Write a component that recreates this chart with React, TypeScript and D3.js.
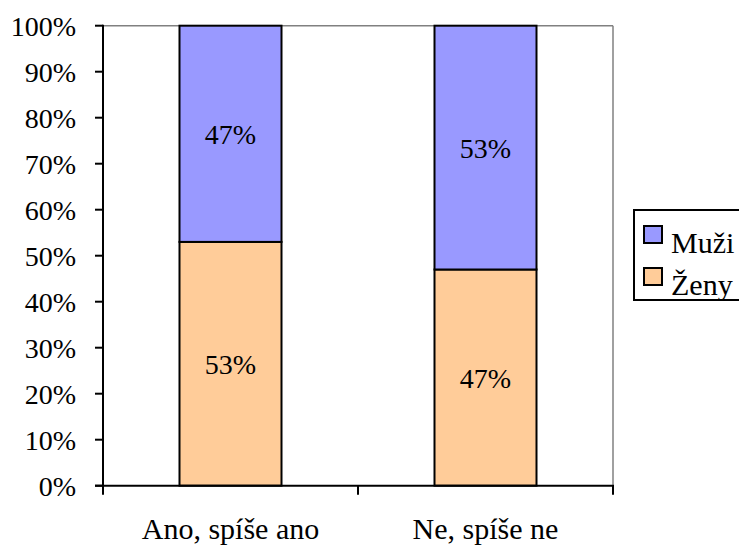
import React from "react";
import * as d3 from "d3";

const categories = ["Ano, spíše ano", "Ne, spíše ne"];
const seriesNames = ["Ženy", "Muži"];
const zeny = [0.53, 0.47];
const muzi = [0.47, 0.53];
const yTicks = [0, 0.1, 0.2, 0.3, 0.4, 0.5, 0.6, 0.7, 0.8, 0.9, 1];
const colors = ["#FFCC99", "#9999FF"];

const W = 739;
const H = 547;
const left = 103;
const right = 613;
const top = 25.7;
const bottom = 485.7;
const FONT = "Liberation Serif";

export default function App() {
  const x = d3.scaleBand<string>().domain(categories).range([left, right]).padding(0);
  const y = d3.scaleLinear().domain([0, 1]).range([bottom, top]);
  const barW = x.bandwidth() * 0.4;

  const rows = categories.map((c, i) => ({ cat: c, "Ženy": zeny[i], "Muži": muzi[i] }));
  const stacked = d3.stack<any>().keys(seriesNames)(rows);
  const pct = d3.format(".0%");
  const ts = { fontFamily: FONT };

  return (
    <svg width={W} height={H} style={{ position: "absolute", left: 0, top: 0, background: "#fff" }}>
      {/* plot frame: top and right edges */}
      <line x1={left} x2={right} y1={top} y2={top} stroke="#808080" strokeWidth={1.5} />
      <line x1={right} x2={right} y1={top} y2={bottom} stroke="#808080" strokeWidth={1.5} />

      {/* stacked bars */}
      {stacked.map((layer, si) =>
        layer.map((d, i) => {
          const x0 = (x(categories[i]) as number) + (x.bandwidth() - barW) / 2;
          const y0 = y(d[1]);
          const y1 = y(d[0]);
          return (
            <g key={`${si}-${i}`}>
              <rect
                x={x0}
                y={y0}
                width={barW}
                height={y1 - y0}
                fill={colors[si]}
                stroke="#000"
                strokeWidth={2}
              />
              <text
                x={x0 + barW / 2}
                y={(y0 + y1) / 2 + 10}
                textAnchor="middle"
                fontSize={28}
                fill="#000"
                style={ts}
              >
                {pct(d[1] - d[0])}
              </text>
            </g>
          );
        })
      )}

      {/* y axis */}
      <line x1={left} x2={left} y1={top - 1} y2={bottom + 1} stroke="#000" strokeWidth={2} />
      {yTicks.map((t) => (
        <g key={t}>
          <line x1={left - 8} x2={left} y1={y(t)} y2={y(t)} stroke="#000" strokeWidth={2} />
          <text x={76} y={y(t) + 10} textAnchor="end" fontSize={28} fill="#000" style={ts}>
            {pct(t)}
          </text>
        </g>
      ))}

      {/* x axis */}
      <line x1={left - 8} x2={right + 1} y1={bottom} y2={bottom} stroke="#000" strokeWidth={2} />
      {[left, ...categories.map((c) => (x(c) as number) + x.bandwidth())].map((tx, i) => (
        <line key={i} x1={tx} x2={tx} y1={bottom} y2={bottom + 9} stroke="#000" strokeWidth={2} />
      ))}
      {categories.map((c) => (
        <text
          key={c}
          x={(x(c) as number) + x.bandwidth() / 2}
          y={539}
          textAnchor="middle"
          fontSize={30}
          fill="#000"
          style={ts}
        >
          {c}
        </text>
      ))}

      {/* legend */}
      <rect x={634} y={210} width={112} height={90} fill="#fff" stroke="#000" strokeWidth={2} />
      {["Muži", "Ženy"].map((name, i) => {
        const ci = seriesNames.indexOf(name);
        const ly = 226 + i * 42;
        return (
          <g key={name}>
            <rect x={644} y={ly} width={18} height={17} fill={colors[ci]} stroke="#000" strokeWidth={2} />
            <text x={671} y={ly + 27} fontSize={30} fill="#000" style={ts}>
              {name}
            </text>
          </g>
        );
      })}
    </svg>
  );
}
